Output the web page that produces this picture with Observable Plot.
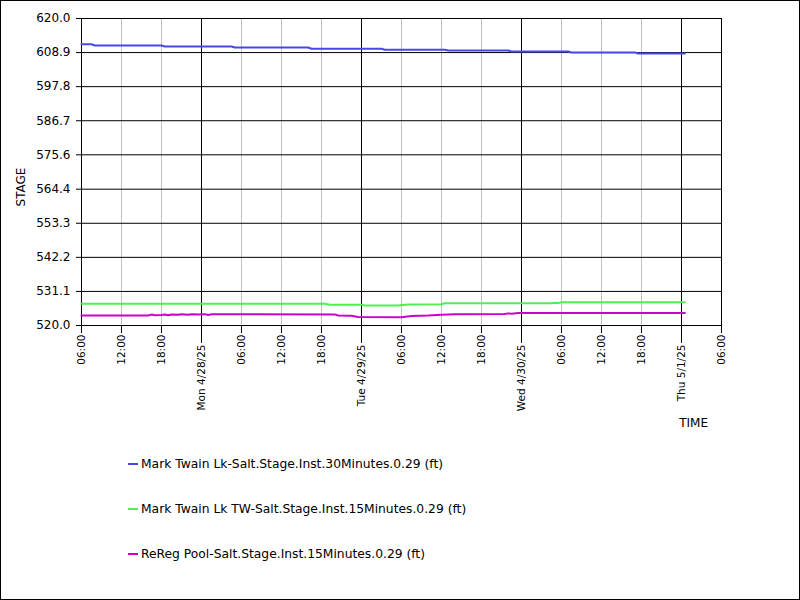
<!DOCTYPE html>
<html>
<head>
<meta charset="utf-8">
<script src="https://cdn.jsdelivr.net/npm/d3@7"></script>
<script src="https://cdn.jsdelivr.net/npm/@observablehq/plot@0.6"></script>
<style>
  html, body { margin: 0; padding: 0; background: white; }
  #wrap { position: relative; width: 800px; height: 600px; overflow: hidden; font-family: "DejaVu Sans", sans-serif; }
  #border { position: absolute; left: 0; top: 0; width: 800px; height: 600px; box-sizing: border-box; border: 1px solid black; pointer-events: none; }
  #chart { position: absolute; left: 0; top: 0; }
  .leg { position: absolute; left: 128px; font-size: 12.3px; height: 14px; line-height: 14px; color: black; white-space: nowrap; }
  .leg .sw { display: inline-block; width: 10px; height: 2px; vertical-align: middle; margin-right: 3px; position: relative; top: -1px; }
  #ylab { position: absolute; left: 21px; top: 187px; font-size: 12px; line-height: 12px; white-space: nowrap; transform: translate(-50%, -50%) rotate(-90deg); }
  #xlab { position: absolute; left: 708px; top: 423px; font-size: 12px; line-height: 12px; white-space: nowrap; transform: translate(-100%, -50%); }
</style>
</head>
<body>
<div id="wrap">
  <div id="chart"></div>
  <div id="ylab"></div>
  <div id="xlab"></div>
  <div id="legend"></div>
  <div id="border"></div>
</div>
<script>
// ---- data ----
const seriesNames = [
  "Mark Twain Lk-Salt.Stage.Inst.30Minutes.0.29 (ft)",
  "Mark Twain Lk TW-Salt.Stage.Inst.15Minutes.0.29 (ft)",
  "ReReg Pool-Salt.Stage.Inst.15Minutes.0.29 (ft)"
];
const seriesColors = ["#4848e8", "#50f050", "#cc00cc"];

const lkTimes = ["2025-04-27T06:00","2025-04-27T07:30","2025-04-27T08:00","2025-04-27T18:00","2025-04-27T18:30",
  "2025-04-28T04:30","2025-04-28T05:00","2025-04-28T16:00","2025-04-28T16:30","2025-04-29T03:00","2025-04-29T03:30",
  "2025-04-29T12:30","2025-04-29T13:00","2025-04-29T22:00","2025-04-29T22:30","2025-04-30T07:00","2025-04-30T07:30",
  "2025-04-30T17:00","2025-04-30T17:30","2025-05-01T00:30"];
const lkValues = [611.6,611.6,611.2,611.2,610.9,610.9,610.55,610.55,610.15,610.15,609.8,609.8,609.55,609.55,609.25,609.25,608.95,608.95,608.6,608.6];

const twTimes = ["2025-04-27T06:00","2025-04-28T17:30","2025-04-28T18:00","2025-04-28T18:30","2025-04-28T19:15",
  "2025-04-29T00:00","2025-04-29T00:30","2025-04-29T05:30","2025-04-29T07:00","2025-04-29T12:00","2025-04-29T12:30",
  "2025-04-30T04:30","2025-04-30T05:00","2025-04-30T05:30","2025-04-30T06:00","2025-05-01T00:30"];
const twValues = [527.07,527.07,527.2,527.07,526.75,526.75,526.5,526.5,526.85,526.9,527.25,527.25,527.4,527.35,527.58,527.6];

const rrTimes = ["2025-04-27T06:00","2025-04-27T16:00","2025-04-27T16:30","2025-04-27T17:00","2025-04-27T18:00",
  "2025-04-27T18:30","2025-04-27T19:00","2025-04-27T19:30","2025-04-27T20:30","2025-04-27T21:00","2025-04-27T22:00",
  "2025-04-27T22:30","2025-04-27T23:30","2025-04-28T00:30","2025-04-28T01:00","2025-04-28T01:30","2025-04-28T20:00",
  "2025-04-28T20:30","2025-04-28T22:30","2025-04-28T23:30","2025-04-29T06:00","2025-04-29T07:30","2025-04-29T10:00",
  "2025-04-29T12:00","2025-04-29T14:00","2025-04-29T21:30","2025-04-29T22:00","2025-04-29T22:30","2025-04-29T23:30",
  "2025-05-01T00:30"];
const rrValues = [523.26,523.26,523.55,523.35,523.4,523.6,523.35,523.6,523.5,523.65,523.5,523.65,523.6,523.7,523.45,523.65,
  523.62,523.25,523.2,522.75,522.72,523.1,523.25,523.5,523.7,523.75,523.95,523.85,524.05,524.05];

const yTickLabels = ["520.0","531.1","542.2","553.3","564.4","575.6","586.7","597.8","608.9","620.0"];
const xDomain = ["2025-04-27T06:00","2025-05-01T06:00"];
const minorTickTimes = ["2025-04-27T06:00","2025-04-27T12:00","2025-04-27T18:00","2025-04-28T06:00","2025-04-28T12:00",
  "2025-04-28T18:00","2025-04-29T06:00","2025-04-29T12:00","2025-04-29T18:00","2025-04-30T06:00","2025-04-30T12:00",
  "2025-04-30T18:00","2025-05-01T06:00"];
const majorTickTimes = ["2025-04-28T00:00","2025-04-29T00:00","2025-04-30T00:00","2025-05-01T00:00"];
const yLabel = "STAGE";
const xLabel = "TIME";

// ---- build ----
const parse = s => new Date(s + ":00Z");
const rows = [];
[[lkTimes, lkValues], [twTimes, twValues], [rrTimes, rrValues]].forEach(([t, v], i) => {
  t.forEach((s, j) => rows.push({series: seriesNames[i], time: parse(s), value: v[j]}));
});
const yTicks = yTickLabels.map(Number);
const minorTicks = minorTickTimes.map(parse);
const majorTicks = majorTickTimes.map(parse);
const innerMinor = minorTicks.filter(d => d > parse(xDomain[0]) && d < parse(xDomain[1]));

const chart = Plot.plot({
  width: 800,
  height: 440,
  marginLeft: 81,
  marginRight: 79,
  marginTop: 18,
  marginBottom: 115,
  style: {fontFamily: "DejaVu Sans, sans-serif", fontSize: "12px", background: "transparent", color: "black"},
  x: {type: "utc", domain: xDomain.map(parse)},
  y: {domain: [520, 620]},
  color: {domain: seriesNames, range: seriesColors},
  marks: [
    Plot.gridX(innerMinor, {stroke: "#c0c0c0", strokeOpacity: 1}),
    Plot.gridY(yTicks, {stroke: "black", strokeOpacity: 1}),
    Plot.gridX(majorTicks, {stroke: "black", strokeOpacity: 1}),
    Plot.frame({stroke: "black"}),
    Plot.line(rows, {x: "time", y: "value", z: "series", stroke: "series", strokeWidth: 2, curve: "linear"}),
    Plot.axisY(yTicks, {tickSize: 5, tickPadding: 6, tickFormat: d => yTickLabels[yTicks.indexOf(d)], label: null, fontSize: 12}),
    Plot.axisX(minorTicks, {tickSize: 8, tickPadding: 1, tickRotate: -90, tickFormat: d3.utcFormat("%H:%M"), label: null, fontSize: 10.5}),
    Plot.axisX(majorTicks, {tickSize: 18, tickPadding: 1, tickRotate: -90, tickFormat: d3.utcFormat("%a %-m/%-d/%y"), label: null, fontSize: 10.5})
  ]
});
document.getElementById("chart").appendChild(chart);
document.getElementById("ylab").textContent = yLabel;
document.getElementById("xlab").textContent = xLabel;

const legend = document.getElementById("legend");
const legendY = [464, 509, 554];
seriesNames.forEach((name, i) => {
  const div = document.createElement("div");
  div.className = "leg";
  div.style.top = (legendY[i] - 7) + "px";
  const sw = document.createElement("span");
  sw.className = "sw";
  sw.style.background = seriesColors[i];
  div.appendChild(sw);
  div.appendChild(document.createTextNode(name));
  legend.appendChild(div);
});
</script>
</body>
</html>
